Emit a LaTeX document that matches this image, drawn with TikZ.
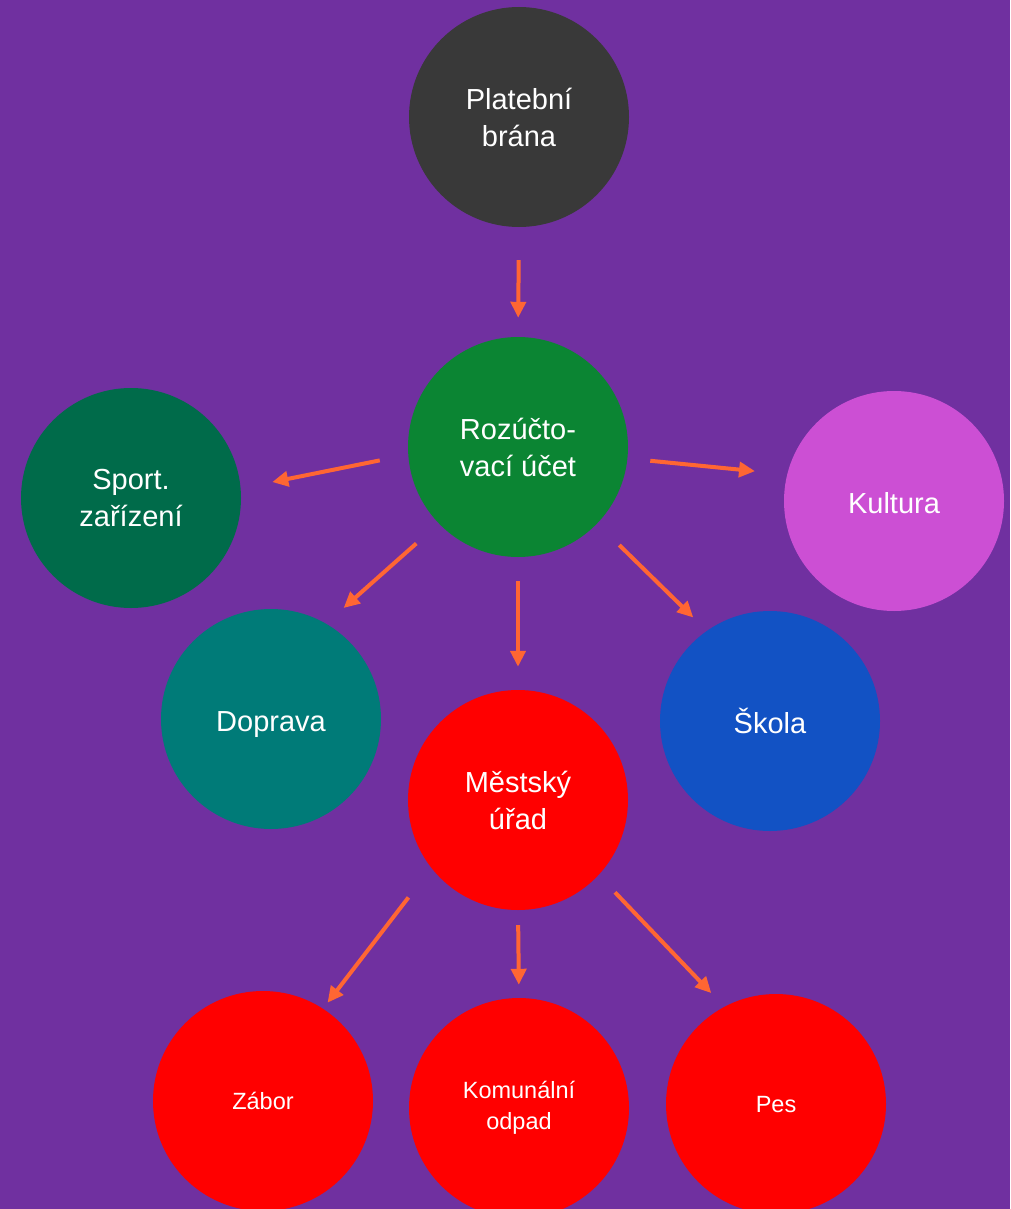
\documentclass[tikz,border=0pt]{standalone}
\usepackage{fontspec}
\setmainfont{Liberation Sans}
\usepackage{xcolor}
\usetikzlibrary{arrows.meta}
\definecolor{bgpurple}{HTML}{7030A0}
\definecolor{gatec}{HTML}{393939}
\definecolor{accc}{HTML}{0B8533}
\definecolor{sportc}{HTML}{006B4A}
\definecolor{kultc}{HTML}{CC4FD4}
\definecolor{dopc}{HTML}{007B78}
\definecolor{skolc}{HTML}{1252C4}
\definecolor{redc}{HTML}{FF0000}
\definecolor{arrowc}{HTML}{FF6633}
\tikzset{
    bubble/.style={circle,fill=#1,minimum size=220pt,inner sep=0pt,text=white,align=center,font=\fontsize{29}{37}\selectfont},
    oneline/.style={text height=27pt,text depth=2pt},
    smallbubble/.style={bubble=redc,font=\fontsize{23.5}{31}\selectfont},
    smallone/.style={text height=19pt,text depth=2pt},
    flow/.style={draw=arrowc,line width=4pt,-{Triangle[length=16pt,width=15pt]}}
}

\begin{document}
\begin{tikzpicture}[x=1pt,y=-1pt]
\useasboundingbox (0,0) rectangle (1010,1209);
\clip (0,0) rectangle (1010,1209);
\fill[bgpurple] (0,0) rectangle (1010,1209);
% circles
\node[bubble=gatec] (plat) at (519,117) {Platební\\brána};
\node[bubble=accc] (roz) at (518,447) {Rozúčto-\\vací účet};
\node[bubble=sportc] (sport) at (131,498) {Sport.\\zařízení};
\node[bubble=kultc,oneline] (kult) at (894,501) {Kultura};
\node[bubble=dopc,oneline] (dop) at (271,719) {Doprava};
\node[bubble=skolc,oneline] (skola) at (770,721) {Škola};
\node[bubble=redc] (urad) at (518,800) {Městský\\úřad};
\node[smallbubble,smallone] (zabor) at (263,1101) {Zábor};
\node[smallbubble] (odpad) at (519,1108) {Komunální\\odpad};
\node[smallbubble,smallone] (pes) at (776,1104) {Pes};
% arrows
\draw[flow,shorten <=33pt,shorten >=19pt] (plat.south) -- (roz.north);
\draw[flow,shorten <=28.9pt,shorten >=32.1pt] (roz.184.4) -- (sport.5.1);
\draw[flow,shorten <=22.8pt,shorten >=32.2pt] (roz.-6.1) -- (kult.166.5);
\draw[flow,shorten <=30pt,shorten >=23.4pt] (roz.224.6) -- (dop.60.4);
\draw[flow,shorten <=24pt,shorten >=23pt] (roz.south) -- (urad.north);
\draw[flow,shorten <=30.8pt,shorten >=18.9pt] (roz.-44.1) -- (skola.125.3);
\draw[flow,shorten <=37.3pt,shorten >=7.4pt] (urad.218.8) -- (zabor.57.9);
\draw[flow,shorten <=15pt,shorten >=13pt] (urad.south) -- (odpad.north);
\draw[flow,shorten <=23.7pt,shorten >=18.8pt] (urad.-43.6) -- (pes.118.8);
\end{tikzpicture}
\end{document}
